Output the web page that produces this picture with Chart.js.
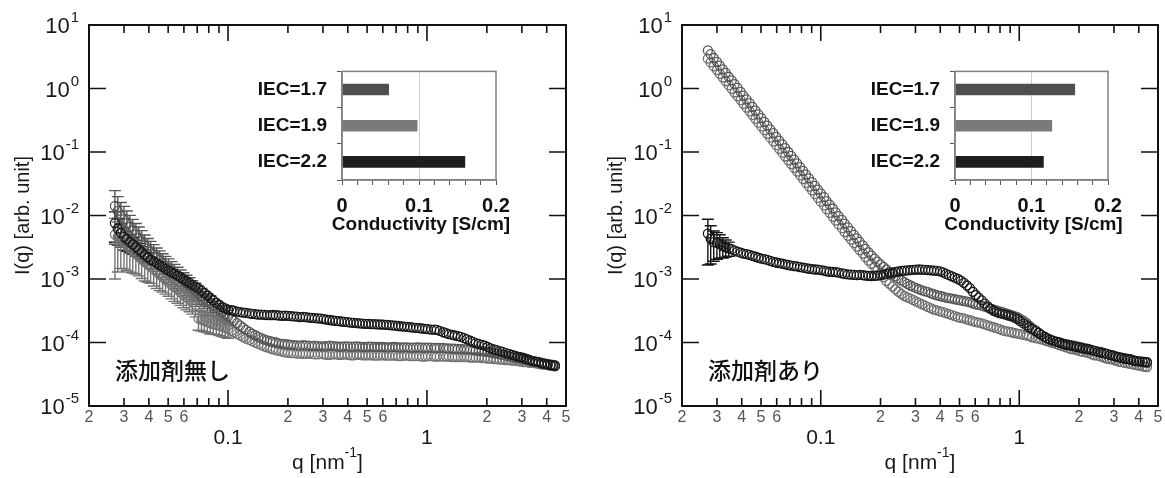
<!DOCTYPE html>
<html>
<head>
<meta charset="utf-8">
<script src="https://cdn.jsdelivr.net/npm/chart.js@4/dist/chart.umd.min.js"></script>
<style>
  html, body { margin: 0; padding: 0; background: #fff; }
  #wrap { position: relative; width: 1165px; height: 478px; overflow: hidden; }
  #wrap canvas { position: absolute; }
</style>
</head>
<body>
<div id="wrap">
  <canvas id="mainL" width="580" height="478" style="left:0;top:0"></canvas>
  <canvas id="mainR" width="585" height="478" style="left:580px;top:0"></canvas>
  <canvas id="insetL" width="290" height="190" style="left:240px;top:50px"></canvas>
  <canvas id="insetR" width="289" height="190" style="left:853px;top:50px"></canvas>
</div>
<script>
(function() {
  'use strict';
  const FONT = "'Liberation Sans', Arial, Helvetica, sans-serif";

  // q [nm^-1] shared by every SAXS profile
  const q = [
    0.0270, 0.0279, 0.0289, 0.0300, 0.0310, 0.0321, 0.0332, 0.0344, 0.0356, 0.0368,
    0.0381, 0.0395, 0.0408, 0.0423, 0.0438, 0.0453, 0.0469, 0.0485, 0.0502, 0.0520,
    0.0538, 0.0557, 0.0577, 0.0597, 0.0618, 0.0640, 0.0662, 0.0686, 0.0710, 0.0735,
    0.0760, 0.0787, 0.0815, 0.0843, 0.0873, 0.0904, 0.0935, 0.0968, 0.100, 0.104,
    0.107, 0.111, 0.115, 0.119, 0.123, 0.128, 0.132, 0.137, 0.142, 0.147,
    0.152, 0.157, 0.163, 0.168, 0.174, 0.180, 0.187, 0.193, 0.200, 0.207,
    0.214, 0.222, 0.230, 0.238, 0.246, 0.255, 0.264, 0.273, 0.283, 0.293,
    0.303, 0.313, 0.324, 0.336, 0.348, 0.360, 0.372, 0.385, 0.399, 0.413,
    0.428, 0.443, 0.458, 0.474, 0.491, 0.508, 0.526, 0.545, 0.564, 0.584,
    0.604, 0.625, 0.647, 0.670, 0.694, 0.718, 0.743, 0.769, 0.796, 0.824,
    0.853, 0.883, 0.914, 0.946, 0.980, 1.01, 1.05, 1.09, 1.12, 1.16,
    1.21, 1.25, 1.29, 1.34, 1.38, 1.43, 1.48, 1.54, 1.59, 1.65,
    1.70, 1.76, 1.82, 1.89, 1.95, 2.02, 2.09, 2.17, 2.24, 2.32,
    2.40, 2.49, 2.58, 2.67, 2.76, 2.86, 2.96, 3.06, 3.17, 3.28,
    3.40, 3.52, 3.64, 3.77, 3.90, 4.04, 4.18, 4.30, 4.40
  ];

  // 添加剤無し
  const leftIEC22 = [
    7.6e-3, 6.2e-3, 5.3e-3, 4.6e-3, 4.2e-3, 3.8e-3, 3.5e-3, 3.2e-3, 2.9e-3, 2.65e-3,
    2.4e-3, 2.2e-3, 2.0e-3, 1.9e-3, 1.78e-3, 1.66e-3, 1.55e-3, 1.44e-3, 1.35e-3, 1.27e-3,
    1.2e-3, 1.13e-3, 1.07e-3, 1.0e-3, 9.3e-4, 8.7e-4, 8.1e-4, 7.6e-4, 7.1e-4, 6.5e-4,
    6.0e-4, 5.5e-4, 5.0e-4, 4.6e-4, 4.2e-4, 3.9e-4, 3.6e-4, 3.45e-4, 3.3e-4, 3.22e-4,
    3.16e-4, 3.07e-4, 3.0e-4, 2.95e-4, 2.92e-4, 2.87e-4, 2.82e-4, 2.8e-4, 2.75e-4, 2.74e-4,
    2.72e-4, 2.7e-4, 2.69e-4, 2.71e-4, 2.69e-4, 2.66e-4, 2.63e-4, 2.65e-4, 2.63e-4, 2.6e-4,
    2.57e-4, 2.55e-4, 2.51e-4, 2.53e-4, 2.51e-4, 2.47e-4, 2.45e-4, 2.42e-4, 2.4e-4, 2.37e-4,
    2.34e-4, 2.3e-4, 2.26e-4, 2.22e-4, 2.19e-4, 2.17e-4, 2.14e-4, 2.11e-4, 2.09e-4, 2.06e-4,
    2.04e-4, 2.02e-4, 2.0e-4, 1.98e-4, 1.97e-4, 1.96e-4, 1.95e-4, 1.94e-4, 1.93e-4, 1.92e-4,
    1.91e-4, 1.9e-4, 1.88e-4, 1.86e-4, 1.84e-4, 1.82e-4, 1.8e-4, 1.78e-4, 1.76e-4, 1.74e-4,
    1.72e-4, 1.7e-4, 1.68e-4, 1.66e-4, 1.64e-4, 1.62e-4, 1.6e-4, 1.59e-4, 1.58e-4, 1.52e-4,
    1.45e-4, 1.4e-4, 1.35e-4, 1.32e-4, 1.29e-4, 1.26e-4, 1.23e-4, 1.17e-4, 1.12e-4, 1.07e-4,
    1.02e-4, 9.8e-5, 9.5e-5, 9.2e-5, 8.9e-5, 8.5e-5, 8.1e-5, 7.8e-5, 7.6e-5, 7.3e-5,
    7.1e-5, 6.8e-5, 6.6e-5, 6.4e-5, 6.2e-5, 6.0e-5, 5.9e-5, 5.7e-5, 5.5e-5, 5.3e-5,
    5.1e-5, 5.0e-5, 4.9e-5, 4.7e-5, 4.6e-5, 4.5e-5, 4.4e-5, 4.35e-5, 4.3e-5
  ];
  const leftIEC17 = [
    1.41e-2, 1.18e-2, 1.0e-2, 8.8e-3, 7.6e-3, 6.6e-3, 5.8e-3, 5.0e-3, 4.4e-3, 3.9e-3,
    3.4e-3, 3.0e-3, 2.7e-3, 2.45e-3, 2.2e-3, 1.98e-3, 1.78e-3, 1.62e-3, 1.48e-3, 1.35e-3,
    1.23e-3, 1.12e-3, 1.02e-3, 9.3e-4, 8.5e-4, 7.8e-4, 7.1e-4, 6.5e-4, 5.9e-4, 5.4e-4,
    4.9e-4, 4.5e-4, 4.2e-4, 3.8e-4, 3.5e-4, 3.25e-4, 3.0e-4, 2.78e-4, 2.57e-4, 2.37e-4,
    2.19e-4, 2.02e-4, 1.86e-4, 1.71e-4, 1.58e-4, 1.47e-4, 1.38e-4, 1.3e-4, 1.23e-4, 1.17e-4,
    1.12e-4, 1.08e-4, 1.05e-4, 1.02e-4, 1.0e-4, 9.7e-5, 9.5e-5, 9.4e-5, 9.3e-5, 9.2e-5,
    9.1e-5, 9.0e-5, 8.9e-5, 9.1e-5, 9.0e-5, 8.9e-5, 8.8e-5, 8.9e-5, 8.8e-5, 8.7e-5,
    8.7e-5, 8.8e-5, 8.9e-5, 8.8e-5, 8.7e-5, 8.6e-5, 8.6e-5, 8.7e-5, 8.7e-5, 8.6e-5,
    8.6e-5, 8.7e-5, 8.6e-5, 8.5e-5, 8.5e-5, 8.6e-5, 8.6e-5, 8.5e-5, 8.5e-5, 8.5e-5,
    8.5e-5, 8.4e-5, 8.4e-5, 8.5e-5, 8.5e-5, 8.4e-5, 8.4e-5, 8.4e-5, 8.4e-5, 8.3e-5,
    8.3e-5, 8.4e-5, 8.4e-5, 8.3e-5, 8.3e-5, 8.3e-5, 8.3e-5, 8.2e-5, 8.2e-5, 8.2e-5,
    8.2e-5, 8.1e-5, 8.1e-5, 8.0e-5, 8.0e-5, 7.9e-5, 7.9e-5, 7.8e-5, 7.8e-5, 7.7e-5,
    7.6e-5, 7.5e-5, 7.4e-5, 7.3e-5, 7.2e-5, 7.1e-5, 7.0e-5, 6.8e-5, 6.7e-5, 6.5e-5,
    6.4e-5, 6.2e-5, 6.1e-5, 5.9e-5, 5.8e-5, 5.7e-5, 5.6e-5, 5.4e-5, 5.3e-5, 5.2e-5,
    5.1e-5, 5.0e-5, 4.9e-5, 4.8e-5, 4.7e-5, 4.6e-5, 4.5e-5, 4.45e-5, 4.4e-5
  ];
  const leftIEC19 = [
    5.0e-3, 4.6e-3, 4.2e-3, 3.8e-3, 3.4e-3, 3.05e-3, 2.75e-3, 2.5e-3, 2.24e-3, 2.04e-3,
    1.86e-3, 1.7e-3, 1.55e-3, 1.41e-3, 1.29e-3, 1.17e-3, 1.07e-3, 9.8e-4, 8.9e-4, 8.1e-4,
    7.4e-4, 6.8e-4, 6.2e-4, 5.6e-4, 5.1e-4, 4.7e-4, 4.3e-4, 3.9e-4, 2.4e-4, 2.3e-4,
    2.2e-4, 2.1e-4, 2.0e-4, 1.95e-4, 1.9e-4, 1.84e-4, 1.78e-4, 1.7e-4, 1.62e-4, 1.53e-4,
    1.45e-4, 1.37e-4, 1.29e-4, 1.22e-4, 1.15e-4, 1.1e-4, 1.05e-4, 1.0e-4, 9.5e-5, 9.1e-5,
    8.7e-5, 8.4e-5, 8.1e-5, 7.8e-5, 7.6e-5, 7.4e-5, 7.2e-5, 7.0e-5, 6.9e-5, 6.8e-5,
    6.8e-5, 6.7e-5, 6.7e-5, 6.6e-5, 6.6e-5, 6.7e-5, 6.6e-5, 6.5e-5, 6.5e-5, 6.6e-5,
    6.5e-5, 6.4e-5, 6.4e-5, 6.5e-5, 6.5e-5, 6.4e-5, 6.4e-5, 6.5e-5, 6.4e-5, 6.3e-5,
    6.3e-5, 6.4e-5, 6.4e-5, 6.3e-5, 6.3e-5, 6.3e-5, 6.3e-5, 6.2e-5, 6.2e-5, 6.3e-5,
    6.3e-5, 6.2e-5, 6.2e-5, 6.2e-5, 6.2e-5, 6.1e-5, 6.1e-5, 6.2e-5, 6.2e-5, 6.1e-5,
    6.1e-5, 6.1e-5, 6.1e-5, 6.0e-5, 6.0e-5, 6.1e-5, 6.1e-5, 6.0e-5, 6.0e-5, 6.0e-5,
    6.0e-5, 6.0e-5, 6.0e-5, 5.9e-5, 5.9e-5, 5.9e-5, 5.9e-5, 5.9e-5, 5.9e-5, 5.8e-5,
    5.8e-5, 5.8e-5, 5.8e-5, 5.7e-5, 5.7e-5, 5.6e-5, 5.6e-5, 5.5e-5, 5.5e-5, 5.4e-5,
    5.4e-5, 5.3e-5, 5.3e-5, 5.2e-5, 5.2e-5, 5.1e-5, 5.0e-5, 4.9e-5, 4.9e-5, 4.8e-5,
    4.8e-5, 4.7e-5, 4.6e-5, 4.5e-5, 4.5e-5, 4.4e-5, 4.3e-5, 4.25e-5, 4.2e-5
  ];
  // relative error (sigma / I) of the first points
  const leftIEC22Err = [0.5, 0.45, 0.4, 0.38, 0.35, 0.32, 0.3, 0.28, 0.25, 0.22, 0.2, 0.18];
  const leftIEC17Err = [
    0.75, 0.68, 0.6, 0.58, 0.55, 0.52, 0.5, 0.5, 0.5, 0.48,
    0.45, 0.45, 0.45, 0.42, 0.4, 0.4, 0.4, 0.4, 0.4, 0.39,
    0.38, 0.37, 0.36, 0.35, 0.35, 0.34, 0.33, 0.32, 0.32, 0.31,
    0.3, 0.3, 0.3, 0.29, 0.28, 0.27, 0.26, 0.25, 0.25
  ];
  const leftIEC19Err = [
    0.8, 0.72, 0.65, 0.62, 0.6, 0.58, 0.55, 0.52, 0.5, 0.5,
    0.5, 0.48, 0.45, 0.45, 0.45, 0.44, 0.42, 0.41, 0.4, 0.4,
    0.4, 0.39, 0.38, 0.37, 0.36, 0.35, 0.35, 0.35, 0.35, 0.34,
    0.33, 0.32, 0.32, 0.31, 0.3, 0.3, 0.3, 0.29, 0.28
  ];

  // 添加剤あり
  const rightIEC22 = [
    5.2e-3, 4.3e-3, 3.8e-3, 3.7e-3, 3.55e-3, 3.3e-3, 3.16e-3, 3.05e-3, 2.95e-3, 2.8e-3,
    2.69e-3, 2.6e-3, 2.51e-3, 2.46e-3, 2.4e-3, 2.32e-3, 2.24e-3, 2.16e-3, 2.09e-3, 2.05e-3,
    2.0e-3, 1.93e-3, 1.86e-3, 1.82e-3, 1.78e-3, 1.74e-3, 1.7e-3, 1.66e-3, 1.62e-3, 1.6e-3,
    1.58e-3, 1.54e-3, 1.51e-3, 1.48e-3, 1.45e-3, 1.43e-3, 1.41e-3, 1.4e-3, 1.38e-3, 1.35e-3,
    1.32e-3, 1.3e-3, 1.29e-3, 1.28e-3, 1.26e-3, 1.23e-3, 1.2e-3, 1.18e-3, 1.17e-3, 1.16e-3,
    1.15e-3, 1.16e-3, 1.15e-3, 1.13e-3, 1.12e-3, 1.11e-3, 1.12e-3, 1.13e-3, 1.15e-3, 1.17e-3,
    1.2e-3, 1.23e-3, 1.26e-3, 1.29e-3, 1.32e-3, 1.34e-3, 1.35e-3, 1.37e-3, 1.38e-3, 1.39e-3,
    1.4e-3, 1.41e-3, 1.4e-3, 1.39e-3, 1.38e-3, 1.37e-3, 1.35e-3, 1.34e-3, 1.32e-3, 1.27e-3,
    1.2e-3, 1.15e-3, 1.1e-3, 1.05e-3, 1.0e-3, 9.4e-4, 8.7e-4, 7.9e-4, 7.2e-4, 6.3e-4,
    5.6e-4, 5.1e-4, 4.6e-4, 4.1e-4, 3.7e-4, 3.4e-4, 3.16e-4, 3.0e-4, 2.9e-4, 2.82e-4,
    2.75e-4, 2.66e-4, 2.57e-4, 2.46e-4, 2.34e-4, 2.17e-4, 2.0e-4, 1.86e-4, 1.74e-4, 1.62e-4,
    1.51e-4, 1.41e-4, 1.32e-4, 1.24e-4, 1.17e-4, 1.12e-4, 1.07e-4, 1.03e-4, 1.0e-4, 9.6e-5,
    9.3e-5, 9.1e-5, 8.9e-5, 8.7e-5, 8.5e-5, 8.3e-5, 8.1e-5, 7.9e-5, 7.8e-5, 7.6e-5,
    7.4e-5, 7.1e-5, 6.9e-5, 6.8e-5, 6.6e-5, 6.4e-5, 6.2e-5, 6.0e-5, 5.9e-5, 5.7e-5,
    5.6e-5, 5.5e-5, 5.4e-5, 5.2e-5, 5.1e-5, 5.05e-5, 5.0e-5, 4.95e-5, 4.9e-5
  ];
  const rightIEC17 = [
    3.98, 3.47, 3.02, 2.63, 2.29, 2.0, 1.76, 1.53, 1.34, 1.17,
    1.02, 0.888, 0.774, 0.675, 0.589, 0.514, 0.449, 0.391, 0.341, 0.298,
    0.26, 0.227, 0.198, 0.173, 0.151, 0.132, 0.115, 0.1, 0.0871, 0.076,
    0.0664, 0.0579, 0.0505, 0.0441, 0.0385, 0.0335, 0.0292, 0.0255, 0.0223, 0.0194,
    0.0169, 0.0148, 0.0129, 0.0112, 0.0098, 0.00855, 0.00746, 0.0065, 0.00569, 0.00497,
    0.00437, 0.00385, 0.00339, 0.00298, 0.00263, 0.00234, 0.00209, 0.00188, 0.0017, 0.00155,
    1.41e-3, 1.3e-3, 1.2e-3, 1.1e-3, 1.02e-3, 9.5e-4, 8.9e-4, 8.4e-4, 7.9e-4, 7.5e-4,
    7.2e-4, 6.9e-4, 6.6e-4, 6.4e-4, 6.2e-4, 5.95e-4, 5.75e-4, 5.55e-4, 5.4e-4, 5.25e-4,
    5.1e-4, 5.0e-4, 4.9e-4, 4.8e-4, 4.7e-4, 4.6e-4, 4.5e-4, 4.4e-4, 4.3e-4, 4.15e-4,
    4.0e-4, 3.9e-4, 3.8e-4, 3.67e-4, 3.55e-4, 3.42e-4, 3.3e-4, 3.2e-4, 3.1e-4, 3.0e-4,
    2.9e-4, 2.8e-4, 2.7e-4, 2.6e-4, 2.5e-4, 2.36e-4, 2.2e-4, 2.02e-4, 1.86e-4, 1.7e-4,
    1.55e-4, 1.43e-4, 1.32e-4, 1.23e-4, 1.15e-4, 1.1e-4, 1.05e-4, 1.02e-4, 1.0e-4, 9.7e-5,
    9.5e-5, 9.3e-5, 9.1e-5, 8.9e-5, 8.7e-5, 8.5e-5, 8.3e-5, 8.1e-5, 7.9e-5, 7.6e-5,
    7.4e-5, 7.2e-5, 7.1e-5, 6.8e-5, 6.6e-5, 6.4e-5, 6.3e-5, 6.1e-5, 5.9e-5, 5.75e-5,
    5.6e-5, 5.5e-5, 5.4e-5, 5.25e-5, 5.1e-5, 5.0e-5, 4.9e-5, 4.85e-5, 4.8e-5
  ];
  const rightIEC19 = [
    2.95, 2.57, 2.24, 1.95, 1.7, 1.49, 1.3, 1.13, 0.99, 0.865,
    0.755, 0.658, 0.574, 0.5, 0.437, 0.381, 0.333, 0.29, 0.253, 0.221,
    0.193, 0.168, 0.147, 0.128, 0.112, 0.0975, 0.0849, 0.0741, 0.0646, 0.0564,
    0.0492, 0.0429, 0.0374, 0.0326, 0.0285, 0.0249, 0.0217, 0.0189, 0.0165, 0.0144,
    0.0126, 0.011, 0.00955, 0.00832, 0.00724, 0.00631, 0.0055, 0.00479, 0.00417, 0.00368,
    0.00324, 0.00285, 0.00251, 0.00221, 0.00195, 0.00174, 0.00155, 0.00138, 0.00123, 0.00107,
    9.3e-4, 8.4e-4, 7.6e-4, 6.9e-4, 6.3e-4, 5.8e-4, 5.4e-4, 5.15e-4, 4.9e-4, 4.65e-4,
    4.4e-4, 4.2e-4, 4.0e-4, 3.8e-4, 3.6e-4, 3.45e-4, 3.3e-4, 3.2e-4, 3.1e-4, 3.0e-4,
    2.9e-4, 2.8e-4, 2.7e-4, 2.6e-4, 2.5e-4, 2.45e-4, 2.4e-4, 2.32e-4, 2.24e-4, 2.17e-4,
    2.1e-4, 2.05e-4, 2.0e-4, 1.93e-4, 1.86e-4, 1.8e-4, 1.74e-4, 1.68e-4, 1.62e-4, 1.56e-4,
    1.51e-4, 1.48e-4, 1.45e-4, 1.41e-4, 1.38e-4, 1.35e-4, 1.32e-4, 1.29e-4, 1.26e-4, 1.21e-4,
    1.17e-4, 1.15e-4, 1.12e-4, 1.08e-4, 1.05e-4, 1.01e-4, 9.8e-5, 9.4e-5, 9.1e-5, 8.8e-5,
    8.5e-5, 8.2e-5, 7.9e-5, 7.8e-5, 7.6e-5, 7.3e-5, 7.1e-5, 7.0e-5, 6.8e-5, 6.5e-5,
    6.3e-5, 6.2e-5, 6.0e-5, 5.8e-5, 5.6e-5, 5.5e-5, 5.4e-5, 5.2e-5, 5.0e-5, 4.9e-5,
    4.8e-5, 4.7e-5, 4.6e-5, 4.5e-5, 4.4e-5, 4.3e-5, 4.2e-5, 4.15e-5, 4.1e-5
  ];
  const rightIEC22Err = [0.68, 0.6, 0.5, 0.45, 0.4, 0.35, 0.3, 0.25];

  // insets: conductivity
  const iecLabels = ['IEC=1.7', 'IEC=1.9', 'IEC=2.2'];
  const condLeft = [0.061, 0.098, 0.160];
  const condRight = [0.157, 0.127, 0.116];
  const barColors = ['#4f4f4f', '#7a7a7a', '#1e1e1e'];

  // axis ticks
  const qTicks = [0.03, 0.04, 0.05, 0.06, 0.07, 0.08, 0.09, 0.1,
                  0.2, 0.3, 0.4, 0.5, 0.6, 0.7, 0.8, 0.9, 1, 2, 3, 4];
  const qMajor = [0.1, 1];
  const qMajorText = ['0.1', '1'];
  const qMinorLabelAt = [0.02, 0.03, 0.04, 0.05, 0.06, 0.2, 0.3, 0.4, 0.5, 0.6, 2, 3, 4, 5];
  const qMinorLabelText = ['2', '3', '4', '5', '6', '2', '3', '4', '5', '6', '2', '3', '4', '5'];
  const iDecades = [1e-5, 1e-4, 1e-3, 1e-2, 1e-1, 1, 10];
  const iExponents = ['-5', '-4', '-3', '-2', '-1', '0', '1'];

  const logFrame = {
    id: 'logFrame',
    beforeDatasetsDraw(chart) {
      const { ctx, scales: { x, y } } = chart;
      ctx.save();
      ctx.lineWidth = 1.4;
      chart.data.datasets.forEach(ds => {
        if (!ds.err) return;
        ctx.strokeStyle = ds.borderColor;
        ctx.beginPath();
        ds.err.forEach((e, i) => {
          const p = ds.data[i];
          const px = x.getPixelForValue(p.x);
          const hi = y.getPixelForValue(p.y * (1 + e));
          const lo = y.getPixelForValue(Math.max(p.y * (1 - e), 1e-5));
          ctx.moveTo(px, hi); ctx.lineTo(px, lo);
          ctx.moveTo(px - 6, hi); ctx.lineTo(px + 6, hi);
          ctx.moveTo(px - 6, lo); ctx.lineTo(px + 6, lo);
        });
        ctx.stroke();
      });
      ctx.restore();
    },
    afterDraw(chart, args, opts) {
      const { ctx, chartArea: a, scales: { x, y } } = chart;
      ctx.save();
      ctx.strokeStyle = '#111';
      ctx.lineWidth = 1.6;
      ctx.beginPath();
      qTicks.forEach(v => {
        const px = x.getPixelForValue(v);
        const len = qMajor.includes(v) ? 16 : 8;
        ctx.moveTo(px, a.bottom); ctx.lineTo(px, a.bottom - len);
        ctx.moveTo(px, a.top); ctx.lineTo(px, a.top + len);
      });
      iDecades.forEach(v => {
        const py = y.getPixelForValue(v);
        ctx.moveTo(a.left, py); ctx.lineTo(a.left + 17, py);
        ctx.moveTo(a.right, py); ctx.lineTo(a.right - 17, py);
      });
      ctx.stroke();
      ctx.lineWidth = 2;
      ctx.strokeRect(a.left, a.top, a.right - a.left, a.bottom - a.top);

      // q tick labels
      ctx.textAlign = 'center';
      ctx.textBaseline = 'middle';
      ctx.fillStyle = '#555';
      ctx.font = '16px ' + FONT;
      qMinorLabelAt.forEach((v, i) => ctx.fillText(qMinorLabelText[i], x.getPixelForValue(v), a.bottom + 12));
      ctx.fillStyle = '#1a1a1a';
      ctx.font = '21px ' + FONT;
      qMajor.forEach((v, i) => ctx.fillText(qMajorText[i], x.getPixelForValue(v), a.bottom + 32));

      // I(q) tick labels as 10^n
      iDecades.forEach((v, i) => {
        const py = y.getPixelForValue(v) + 2;
        ctx.font = '15px ' + FONT;
        const sw = ctx.measureText(iExponents[i]).width;
        const xs = a.left - 10 - sw;
        ctx.textAlign = 'right';
        ctx.font = '22px ' + FONT;
        ctx.fillText('10', xs - 1, py);
        ctx.textAlign = 'left';
        ctx.font = '15px ' + FONT;
        ctx.fillText(iExponents[i], xs, py - 9);
      });

      // axis titles
      ctx.save();
      ctx.translate(a.left - 66, (a.top + a.bottom) / 2);
      ctx.rotate(-Math.PI / 2);
      ctx.textAlign = 'center';
      ctx.font = '20px ' + FONT;
      ctx.fillText('I(q) [arb. unit]', 0, 0);
      ctx.restore();

      ctx.textAlign = 'left';
      ctx.textBaseline = 'alphabetic';
      ctx.font = '21px ' + FONT;
      const w1 = ctx.measureText('q [nm').width;
      const w3 = ctx.measureText(']').width;
      ctx.font = '14px ' + FONT;
      const w2 = ctx.measureText('-1').width;
      const sx = (a.left + a.right) / 2 - (w1 + w2 + w3) / 2;
      ctx.font = '21px ' + FONT;
      ctx.fillText('q [nm', sx, a.bottom + 63);
      ctx.fillText(']', sx + w1 + w2, a.bottom + 63);
      ctx.font = '14px ' + FONT;
      ctx.fillText('-1', sx + w1, a.bottom + 51);

      // sample note
      ctx.textBaseline = 'middle';
      ctx.fillStyle = '#111';
      ctx.font = "500 23px 'Noto Sans CJK JP', sans-serif";
      ctx.fillText(opts.note, a.left + 26, 370);
      ctx.restore();
    }
  };

  function mainChart(id, series, pad, note) {
    return new Chart(document.getElementById(id), {
      type: 'scatter',
      data: {
        datasets: series.map(s => ({
          data: q.map((v, i) => ({ x: v, y: s.vals[i] })),
          borderColor: s.color,
          backgroundColor: 'rgba(0,0,0,0)',
          pointRadius: 4.5,
          pointHoverRadius: 4.5,
          pointBorderWidth: 1.3,
          err: s.err
        }))
      },
      options: {
        responsive: false,
        animation: false,
        devicePixelRatio: 1,
        events: [],
        layout: { padding: pad },
        plugins: {
          legend: { display: false },
          tooltip: { enabled: false },
          logFrame: { note: note }
        },
        scales: {
          x: { type: 'logarithmic', min: 0.02, max: 5, display: false },
          y: { type: 'logarithmic', min: 1e-5, max: 10, display: false }
        }
      },
      plugins: [logFrame]
    });
  }

  // box around the inset + its x title (Chart.js would squeeze the title to the plot width)
  const insetBox = {
    id: 'insetBox',
    afterDraw(chart) {
      const { ctx, chartArea: a } = chart;
      ctx.save();
      ctx.strokeStyle = '#808080';
      ctx.lineWidth = 1.5;
      ctx.strokeRect(a.left, a.top, a.right - a.left, a.bottom - a.top);
      ctx.fillStyle = '#111';
      ctx.font = 'bold 19px ' + FONT;
      ctx.textAlign = 'center';
      ctx.textBaseline = 'middle';
      ctx.fillText('Conductivity [S/cm]', (a.left + a.right) / 2 + 2, a.bottom + 45);
      ctx.restore();
    }
  };

  function insetChart(id, vals) {
    const tickFont = { family: FONT, size: 19, weight: 'bold' };
    return new Chart(document.getElementById(id), {
      type: 'bar',
      data: {
        labels: iecLabels,
        datasets: [{
          data: vals,
          backgroundColor: barColors,
          borderWidth: 0,
          barPercentage: 0.32,
          categoryPercentage: 1
        }]
      },
      options: {
        indexAxis: 'y',
        responsive: false,
        animation: false,
        devicePixelRatio: 1,
        events: [],
        layout: { padding: { left: 0, top: 10, right: 34, bottom: 0 } },
        plugins: { legend: { display: false }, tooltip: { enabled: false } },
        scales: {
          x: {
            min: 0, max: 0.2,
            ticks: {
              stepSize: 0.02, autoSkip: false, maxRotation: 0, padding: 9,
              font: { family: FONT, size: 20, weight: 'bold' }, color: '#111',
              callback: v => (Math.round(v * 100) % 10 === 0 ? String(Math.round(v * 10) / 10) : '')
            },
            grid: {
              color: c => (c.tick && Math.abs(c.tick.value - 0.1) < 1e-6 ? '#cfcfcf' : 'rgba(0,0,0,0)'),
              tickColor: '#555', tickLength: 5, lineWidth: 1
            },
            border: { color: '#808080', width: 1.5 },
            afterFit: s => { s.height = 60; }
          },
          y: {
            ticks: { font: tickFont, color: '#111', padding: 10 },
            grid: { drawOnChartArea: false, tickColor: '#555', tickLength: 5 },
            border: { color: '#808080', width: 1.5 },
            afterFit: s => { s.width = 102; }
          }
        }
      },
      plugins: [insetBox]
    });
  }

  mainChart('mainL', [
    { vals: leftIEC22, color: '#151515', err: leftIEC22Err },
    { vals: leftIEC17, color: '#555555', err: leftIEC17Err },
    { vals: leftIEC19, color: '#737373', err: leftIEC19Err }
  ], { left: 89, top: 25, right: 14, bottom: 72 }, '添加剤無し');

  mainChart('mainR', [
    { vals: rightIEC22, color: '#151515', err: rightIEC22Err },
    { vals: rightIEC17, color: '#555555' },
    { vals: rightIEC19, color: '#6e6e6e' }
  ], { left: 102, top: 25, right: 7, bottom: 72 }, '添加剤あり');

  insetChart('insetL', condLeft);
  insetChart('insetR', condRight);
})();
</script>
</body>
</html>
